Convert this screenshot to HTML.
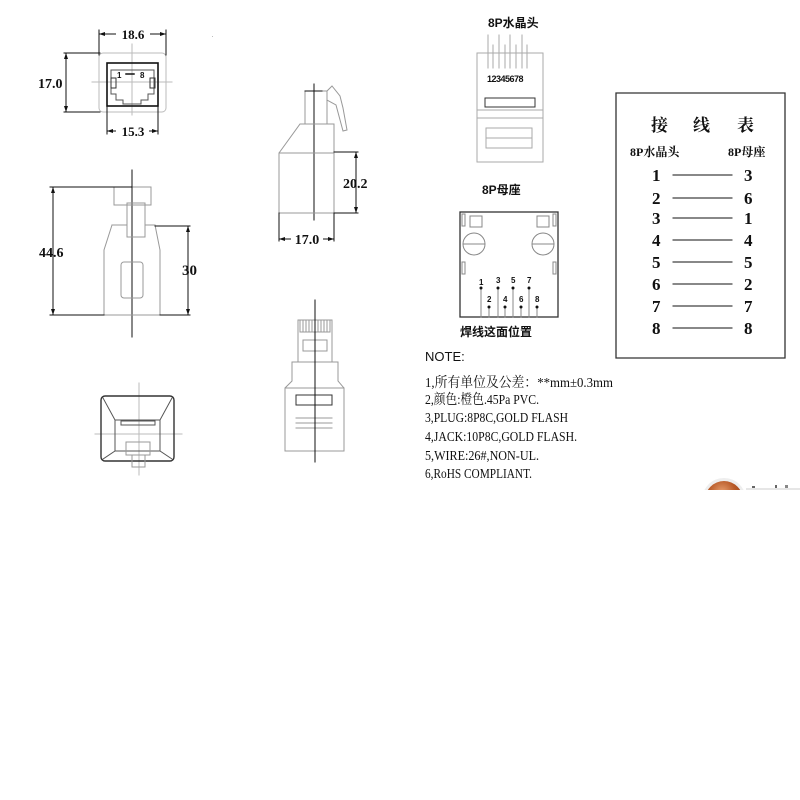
<!DOCTYPE html>
<html><head><meta charset="utf-8"><style>
html,body{margin:0;padding:0;background:#fff;width:800px;height:800px;overflow:hidden}
svg{display:block}
.t{font-family:"Liberation Serif","Noto Serif CJK SC",serif;font-weight:bold;fill:#111}
.s{font-family:"Liberation Sans","Noto Sans CJK SC",sans-serif;font-weight:bold;fill:#111}
.n{font-family:"Liberation Serif","Noto Serif CJK SC",serif;fill:#111;font-size:14px}
</style></head><body>
<svg width="800" height="800" viewBox="0 0 800 800" xmlns="http://www.w3.org/2000/svg">
<g fill="none" stroke-linecap="square">
<rect x="99" y="53" width="67" height="59" rx="4" stroke="#bbb"/>
<line x1="132" y1="44" x2="132" y2="115" stroke="#bbb"/>
<line x1="92" y1="82" x2="172" y2="82" stroke="#bbb"/>
<rect x="107" y="63" width="51" height="43" stroke="#111" stroke-width="1.6"/>
<path d="M111 70 H154 V94 H148 V100 H141 V104 H123 V100 H116 V94 H111 Z" stroke="#555"/>
<rect x="111" y="78" width="5" height="10" stroke="#333"/>
<rect x="150" y="78" width="5" height="10" stroke="#333"/>
<line x1="126" y1="74" x2="134" y2="74" stroke="#111" stroke-width="1.5"/>
<g stroke="#111">
<line x1="99" y1="34" x2="166" y2="34"/><line x1="99" y1="30" x2="99" y2="55"/><line x1="166" y1="30" x2="166" y2="55"/>
<line x1="66" y1="53" x2="66" y2="112"/><line x1="64" y1="53" x2="100" y2="53"/><line x1="64" y1="112" x2="100" y2="112"/>
<line x1="107" y1="131" x2="158" y2="131"/><line x1="107" y1="106" x2="107" y2="134"/><line x1="158" y1="106" x2="158" y2="134"/>
</g>
<line x1="132" y1="170" x2="132" y2="337" stroke="#111"/>
<g stroke="#999">
<rect x="114" y="187" width="37" height="18"/>
<rect x="127" y="203" width="18" height="34"/>
<path d="M112 225 L104 250 V315 M155 225 L160 250 V315 M112 225 H127 M145 225 H155 M104 315 H160"/>
<rect x="121" y="262" width="22" height="36" rx="3"/>
</g>
<g stroke="#111">
<line x1="53" y1="187" x2="53" y2="315"/><line x1="50" y1="187" x2="132" y2="187"/><line x1="50" y1="315" x2="104" y2="315"/>
<line x1="188" y1="226" x2="188" y2="315"/><line x1="155" y1="226" x2="190" y2="226"/><line x1="160" y1="315" x2="190" y2="315"/>
</g>
<line x1="314" y1="84" x2="314" y2="220" stroke="#111"/>
<g stroke="#999">
<rect x="305" y="91" width="22" height="33"/>
<path d="M327 91 L332 86 L340 96 L343 108 L347 130 L343 131 L336 105 L327 100"/>
<path d="M279 153 L300 124 H334 V213 H279 Z M279 153 H334"/>
</g>
<g stroke="#111">
<line x1="305" y1="91" x2="322" y2="91"/>
<line x1="356" y1="152" x2="356" y2="213"/><line x1="334" y1="152" x2="358" y2="152"/><line x1="334" y1="213" x2="358" y2="213"/>
<line x1="279" y1="239" x2="334" y2="239"/><line x1="279" y1="213" x2="279" y2="241"/><line x1="334" y1="213" x2="334" y2="241"/>
</g>
<g stroke="#999">
<rect x="298" y="320" width="34" height="42"/>
<path d="M300 320 V332 H330 V320 M303 321 V331 M306 321 V331 M309 321 V331 M312 321 V331 M318 321 V331 M321 321 V331 M324 321 V331 M327 321 V331"/>
<rect x="303" y="340" width="24" height="11"/>
<path d="M292 362 H338 V381 L344 388 V451 H285 V388 L292 381 Z M285 388 H344"/>
<rect x="296" y="395" width="36" height="10" stroke="#333"/>
<path d="M296 418 H332 M296 423 H332 M296 428 H332"/>
</g>
<line x1="315" y1="300" x2="315" y2="462" stroke="#111"/>
<line x1="139" y1="383" x2="139" y2="475" stroke="#bbb"/>
<line x1="95" y1="434" x2="182" y2="434" stroke="#bbb"/>
<rect x="101" y="396" width="73" height="65" rx="4" stroke="#333" stroke-width="1.4"/>
<path d="M103 398 L115 420 H160 L172 398 M103 459 L115 451 H160 L172 459 M115 420 V451 M160 420 V451" stroke="#555"/>
<rect x="121" y="421" width="34" height="4" stroke="#555"/>
<rect x="126" y="442" width="24" height="13" stroke="#999"/>
<rect x="132" y="455" width="13" height="12" stroke="#999"/>
<g stroke="#aaa">
<rect x="477" y="53" width="66" height="109"/>
<path d="M488 35 V68 M493 45 V68 M499 35 V68 M505 45 V68 M510 35 V68 M516 45 V68 M522 35 V68 M527 45 V68"/>
<rect x="485" y="98" width="50" height="9" stroke="#333"/>
<rect x="477" y="110" width="66" height="8"/>
<rect x="486" y="128" width="46" height="20"/>
<line x1="486" y1="138" x2="532" y2="138"/>
</g>
<rect x="460" y="212" width="98" height="105" stroke="#333" stroke-width="1.3"/>
<g stroke="#888">
<rect x="470" y="216" width="12" height="11"/><rect x="537" y="216" width="12" height="11"/>
<rect x="462" y="214" width="3" height="12"/><rect x="553" y="214" width="3" height="12"/>
<rect x="462" y="262" width="3" height="12"/><rect x="553" y="262" width="3" height="12"/>
<circle cx="474" cy="244" r="11"/><circle cx="543" cy="244" r="11"/>
<line x1="463" y1="244" x2="485" y2="244"/><line x1="532" y1="244" x2="554" y2="244"/>
<path d="M481 288 V317 M498 288 V317 M513 288 V317 M529 288 V317 M489 307 V317 M505 307 V317 M521 307 V317 M537 307 V317"/>
</g>
<g fill="#111"><circle cx="481" cy="288" r="1.5"/><circle cx="498" cy="288" r="1.5"/><circle cx="513" cy="288" r="1.5"/><circle cx="529" cy="288" r="1.5"/>
<circle cx="489" cy="307" r="1.5"/><circle cx="505" cy="307" r="1.5"/><circle cx="521" cy="307" r="1.5"/><circle cx="537" cy="307" r="1.5"/></g>
<path d="M616 358 V93 H785 V358 Z" stroke="#333" stroke-width="1.3"/>
<g stroke="#111"><line x1="673" y1="175" x2="732" y2="175"/><line x1="673" y1="198" x2="732" y2="198"/><line x1="673" y1="218" x2="732" y2="218"/><line x1="673" y1="240" x2="732" y2="240"/><line x1="673" y1="262" x2="732" y2="262"/><line x1="673" y1="284" x2="732" y2="284"/><line x1="673" y1="306" x2="732" y2="306"/><line x1="673" y1="328" x2="732" y2="328"/></g>
</g>
<g fill="#111">
<path d="M99 34 l6 -2 v4z M166 34 l-6 -2 v4z M66 53 l-2 6 h4z M66 112 l-2 -6 h4z M107 131 l6 -2 v4z M158 131 l-6 -2 v4z"/>
<path d="M53 187 l-2 6 h4z M53 315 l-2 -6 h4z M188 226 l-2 6 h4z M188 315 l-2 -6 h4z"/>
<path d="M356 152 l-2 6 h4z M356 213 l-2 -6 h4z M279 239 l6 -2 v4z M334 239 l-6 -2 v4z"/>
</g>
<g class="t" font-size="13">
<rect x="116" y="27" width="34" height="14" fill="#fff"/>
<text x="133" y="39" text-anchor="middle">18.6</text>
<text x="38" y="88" font-size="14">17.0</text>
<rect x="116" y="124" width="33" height="14" fill="#fff"/>
<text x="133" y="136" text-anchor="middle">15.3</text>
<text x="39" y="257" font-size="14">44.6</text>
<text x="182" y="275" font-size="15">30</text>
<text x="343" y="188" font-size="14">20.2</text>
<rect x="291" y="232" width="32" height="14" fill="#fff"/>
<text x="307" y="244" text-anchor="middle" font-size="14">17.0</text>
</g>
<text x="117" y="78" class="s" font-size="8">1</text><text x="140" y="78" class="s" font-size="8">8</text>
<text x="212" y="37" class="s" font-size="4">.</text>
<g class="s" font-size="12">
<text x="488" y="27">8P水晶头</text>
<text x="482" y="194">8P母座</text>
<text x="460" y="336">焊线这面位置</text>
</g>
<text x="487" y="82" class="s" font-size="9" letter-spacing="-0.5">12345678</text>
<g class="s" font-size="8">
<text x="479" y="285">1</text><text x="496" y="283">3</text><text x="511" y="283">5</text><text x="527" y="283">7</text>
<text x="487" y="302">2</text><text x="503" y="302">4</text><text x="519" y="302">6</text><text x="535" y="302">8</text>
</g>
<g class="t">
<text x="651" y="131" font-size="17">接</text><text x="693" y="131" font-size="17">线</text><text x="737" y="131" font-size="17">表</text>
<text x="630" y="156" font-size="12">8P水晶头</text><text x="728" y="156" font-size="12">8P母座</text>
</g>
<g class="t" font-size="17">
<text x="652" y="181">1</text><text x="744" y="181">3</text>
<text x="652" y="204">2</text><text x="744" y="204">6</text>
<text x="652" y="224">3</text><text x="744" y="224">1</text>
<text x="652" y="246">4</text><text x="744" y="246">4</text>
<text x="652" y="268">5</text><text x="744" y="268">5</text>
<text x="652" y="290">6</text><text x="744" y="290">2</text>
<text x="652" y="312">7</text><text x="744" y="312">7</text>
<text x="652" y="334">8</text><text x="744" y="334">8</text>
</g>
<text x="425" y="361" font-family="Liberation Sans,sans-serif" font-size="13" fill="#111">NOTE:</text>
<g class="n" lengthAdjust="spacingAndGlyphs">
<text x="425" y="387" textLength="188" lengthAdjust="spacingAndGlyphs">1,所有单位及公差：**mm±0.3mm</text>
<text x="425" y="404" textLength="114" lengthAdjust="spacingAndGlyphs">2,颜色:橙色.45Pa PVC.</text>
<text x="425" y="422" textLength="143" lengthAdjust="spacingAndGlyphs">3,PLUG:8P8C,GOLD FLASH</text>
<text x="425" y="441" textLength="152" lengthAdjust="spacingAndGlyphs">4,JACK:10P8C,GOLD FLASH.</text>
<text x="425" y="460" textLength="114" lengthAdjust="spacingAndGlyphs">5,WIRE:26#,NON-UL.</text>
<text x="425" y="478" textLength="107" lengthAdjust="spacingAndGlyphs">6,RoHS COMPLIANT.</text>
</g>
<defs><clipPath id="c"><rect x="690" y="470" width="110" height="20"/></clipPath>
<radialGradient id="g" cx="0.45" cy="0.3" r="0.7"><stop offset="0" stop-color="#e8a070"/><stop offset="0.5" stop-color="#b85a28"/><stop offset="1" stop-color="#8a3a18"/></radialGradient></defs>
<g clip-path="url(#c)">
<circle cx="724" cy="500" r="22" fill="#eee"/>
<circle cx="724" cy="500" r="19" fill="url(#g)"/>
<line x1="746" y1="489" x2="800" y2="489" stroke="#ccc"/>
<rect x="752" y="486" width="3" height="2" fill="#666"/><rect x="775" y="485" width="2" height="3" fill="#666"/><rect x="785" y="485" width="3" height="3" fill="#888"/>
</g>
</svg>
</body></html>
